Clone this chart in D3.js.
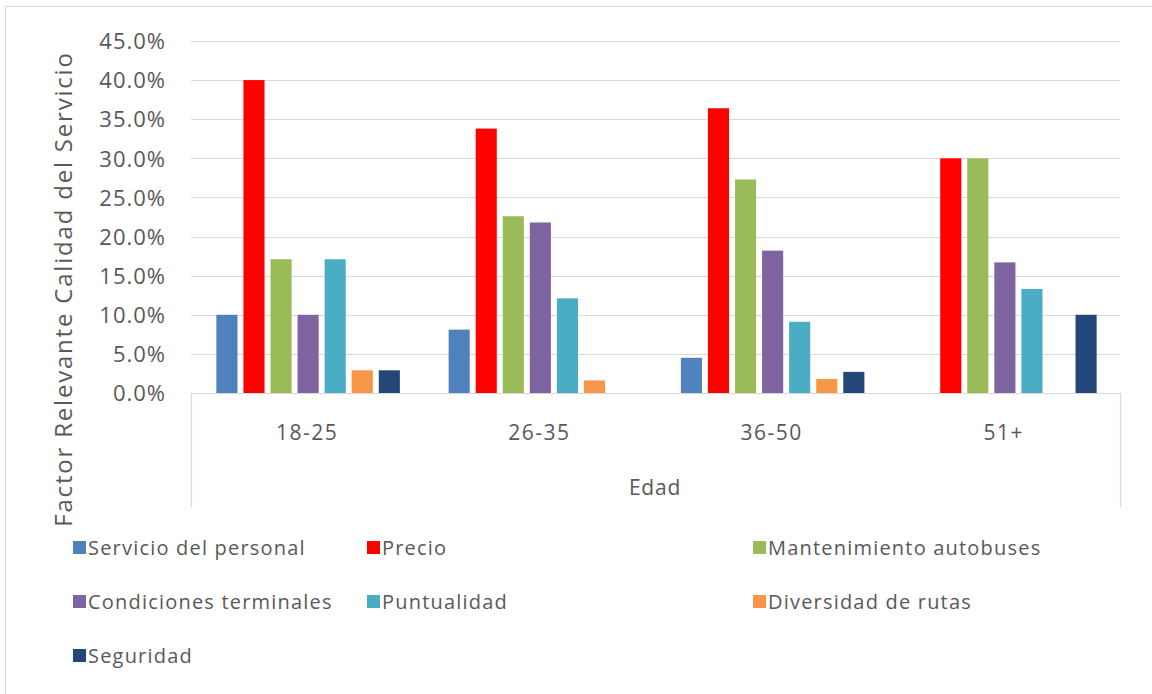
<!DOCTYPE html>
<html>
<head>
<meta charset="utf-8">
<script src="https://cdn.jsdelivr.net/npm/d3@7"></script>
<style>
  body { margin: 0; background: #fff; }
  text { font-family: "Open Sans", "Liberation Sans", sans-serif; fill: #595959; }
</style>
</head>
<body>
<div id="chart"></div>
<script>
// age groups on the x axis
var ageGroups = ["18-25", "26-35", "36-50", "51+"];
var seriesNames = ["Servicio del personal", "Precio", "Mantenimiento autobuses",
  "Condiciones terminales", "Puntualidad", "Diversidad de rutas", "Seguridad"];
var seriesColors = ["#4F81BD", "#FF0000", "#9BBB59", "#8064A2", "#4BACC6", "#F79646", "#24477A"];

// share per series, one value per age group
var servicioPersonal = [0.100, 0.081, 0.045, 0.000];
var precio = [0.400, 0.338, 0.364, 0.300];
var mantenimiento = [0.171, 0.226, 0.273, 0.300];
var condiciones = [0.100, 0.218, 0.182, 0.167];
var puntualidad = [0.171, 0.121, 0.091, 0.133];
var diversidad = [0.029, 0.016, 0.018, 0.000];
var seguridad = [0.029, 0.000, 0.027, 0.100];

var yTicks = [0, 0.05, 0.10, 0.15, 0.20, 0.25, 0.30, 0.35, 0.40, 0.45];

var allSeries = [servicioPersonal, precio, mantenimiento, condiciones, puntualidad, diversidad, seguridad];

var W = 1152, H = 694;
var plotLeft = 191, plotRight = 1120, plotTop = 41, plotBottom = 393;

var svg = d3.select("#chart")
  .append("svg")
  .attr("width", W)
  .attr("height", H);

// outer frame
svg.append("rect")
  .attr("x", 5.5).attr("y", 6.5)
  .attr("width", 1160).attr("height", 700)
  .attr("fill", "none")
  .attr("stroke", "#d9d9d9");

var x0 = d3.scaleBand().domain(ageGroups).range([plotLeft, plotRight]);
var x1 = d3.scaleBand().domain(seriesNames)
  .range([0, x0.bandwidth()])
  .paddingInner(0.22)
  .paddingOuter(0.9);
var y = d3.scaleLinear().domain([0, 0.45]).range([plotBottom, plotTop]);

// gridlines
svg.append("g")
  .selectAll("line")
  .data(yTicks.slice(1))
  .enter()
  .append("line")
  .attr("x1", plotLeft)
  .attr("x2", plotRight)
  .attr("y1", d => Math.round(y(d)) + 0.5)
  .attr("y2", d => Math.round(y(d)) + 0.5)
  .style("stroke", "#d9d9d9")
  .style("stroke-width", 1.2);

// y axis tick labels
var yAxis = svg.append("g")
  .attr("transform", "translate(" + (plotLeft - 25) + ",0)")
  .call(d3.axisLeft(y).tickValues(yTicks).tickSize(0).tickPadding(0)
    .tickFormat(d => (d * 100).toFixed(1) + "%"));
yAxis.select(".domain").remove();
yAxis.selectAll("text")
  .style("font-size", "22px")
  .style("letter-spacing", "1px")
  .attr("fill", "#595959")
  .attr("dy", "0.35em");

// bars
var groups = svg.append("g")
  .selectAll("g")
  .data(ageGroups)
  .enter()
  .append("g")
  .attr("transform", d => "translate(" + (x0(d) + 1) + ",0)");

groups.selectAll("rect")
  .data((g, gi) => seriesNames.map((s, si) => ({ s: s, si: si, v: allSeries[si][gi] })))
  .enter()
  .append("rect")
  .attr("x", d => x1(d.s))
  .attr("width", x1.bandwidth())
  .attr("y", d => y(d.v))
  .attr("height", d => y(0) - y(d.v))
  .style("fill", d => seriesColors[d.si]);

// category axis
svg.append("line")
  .attr("x1", plotLeft).attr("x2", plotRight)
  .attr("y1", plotBottom + 0.5).attr("y2", plotBottom + 0.5)
  .style("stroke", "#d9d9d9").style("stroke-width", 1.2);
[plotLeft, plotRight].forEach(function (xx) {
  svg.append("line")
    .attr("x1", xx + 0.5).attr("x2", xx + 0.5)
    .attr("y1", plotBottom).attr("y2", 507)
    .style("stroke", "#d9d9d9").style("stroke-width", 1.2);
});

svg.append("g")
  .selectAll("text")
  .data(ageGroups)
  .enter()
  .append("text")
  .attr("x", d => x0(d) + x0.bandwidth() / 2)
  .attr("y", 440)
  .attr("text-anchor", "middle")
  .style("font-size", "21px")
  .style("letter-spacing", "1.5px")
  .text(d => d);

// axis titles
svg.append("text")
  .attr("x", 655)
  .attr("y", 495)
  .attr("text-anchor", "middle")
  .style("font-size", "21px")
  .style("letter-spacing", "0.8px")
  .text("Edad");

svg.append("text")
  .attr("transform", "translate(72,289) rotate(-90)")
  .attr("text-anchor", "middle")
  .style("font-size", "24px")
  .style("letter-spacing", "1.8px")
  .text("Factor Relevante Calidad del Servicio");

// legend
var legendCols = [73, 367, 753];
var legendRows = [548, 602, 656];
var legend = svg.append("g")
  .selectAll("g")
  .data(seriesNames)
  .enter()
  .append("g")
  .attr("transform", (d, i) => "translate(" + legendCols[i % 3] + "," + legendRows[Math.floor(i / 3)] + ")");

legend.append("rect")
  .attr("x", 0).attr("y", -7)
  .attr("width", 13).attr("height", 13)
  .style("fill", (d, i) => seriesColors[i]);

legend.append("text")
  .attr("x", 15)
  .attr("y", 0)
  .attr("dy", "0.35em")
  .style("font-size", "20px")
  .style("letter-spacing", "1.2px")
  .text(d => d);
</script>
</body>
</html>
